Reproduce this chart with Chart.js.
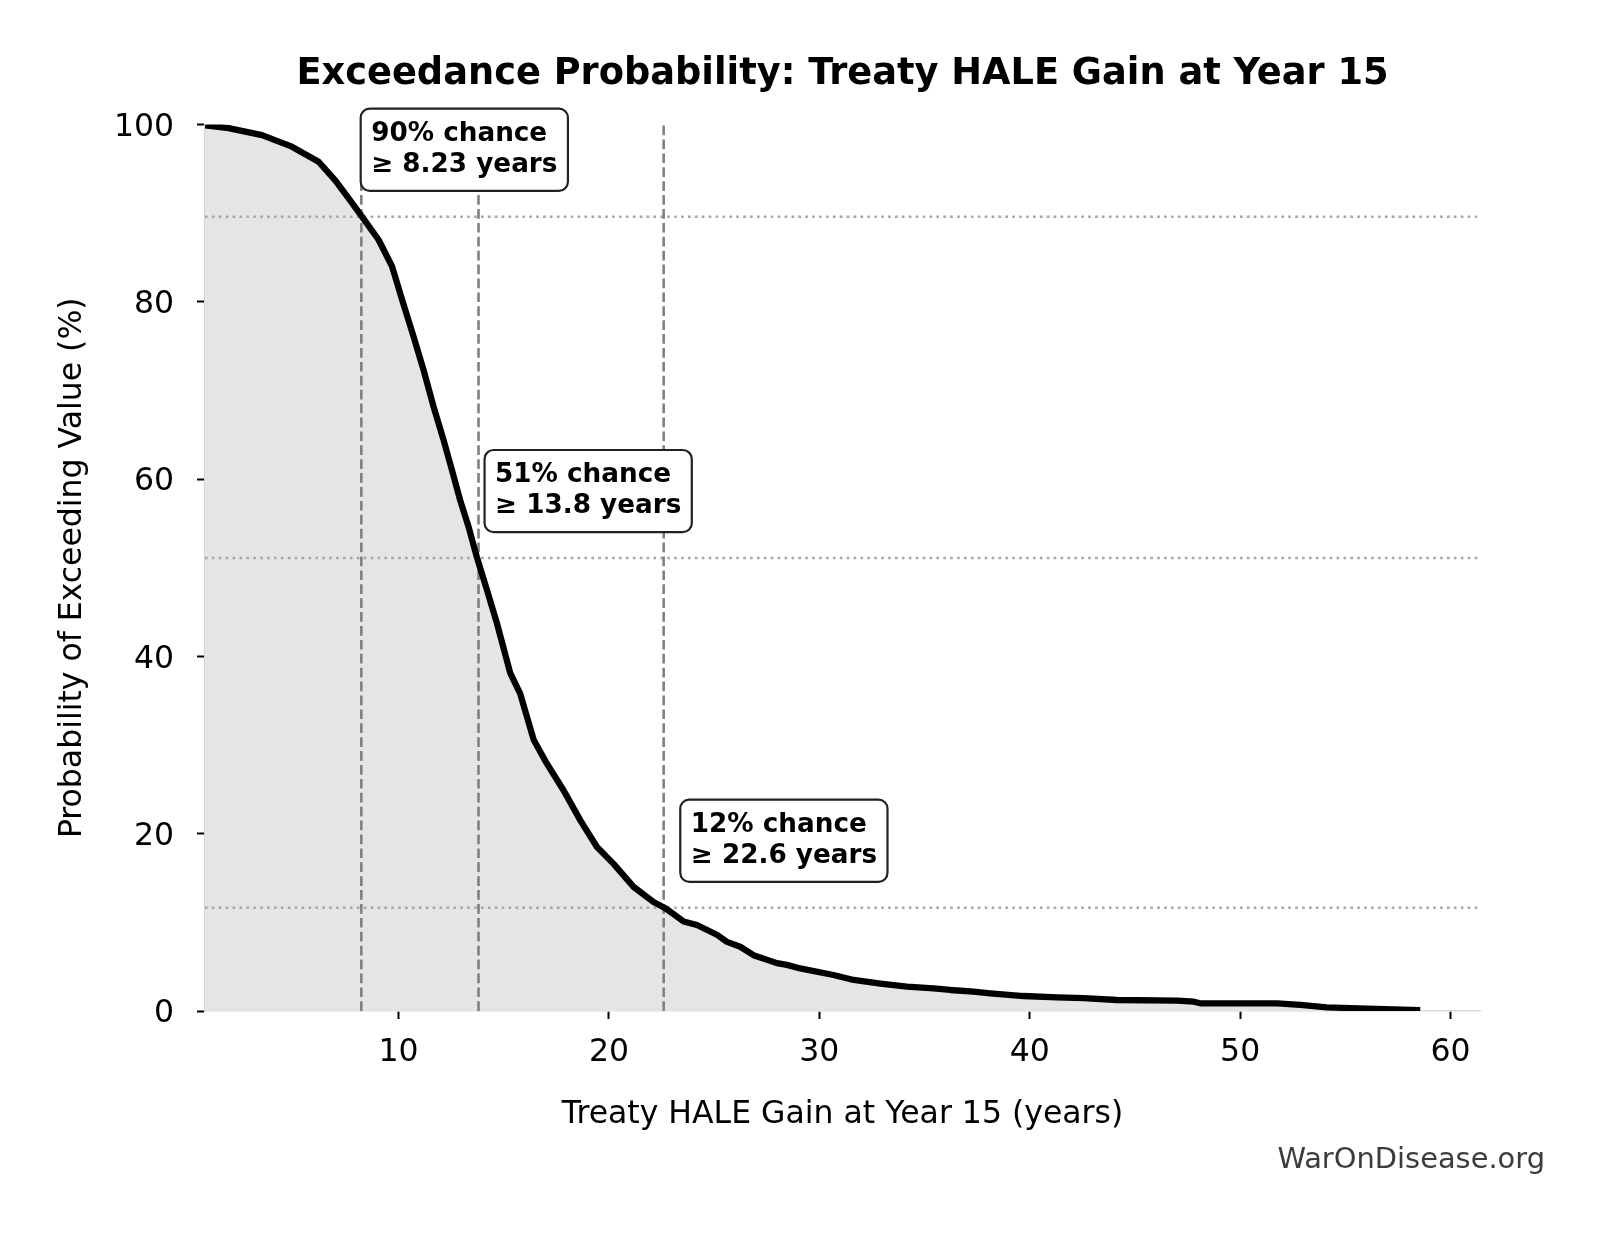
<!DOCTYPE html>
<html>
<head>
<meta charset="utf-8">
<script src="https://cdn.jsdelivr.net/npm/chart.js@4.4.1/dist/chart.umd.min.js"></script>
<style>
  html, body { margin: 0; padding: 0; background: #ffffff; }
  #wrap { width: 1603px; height: 1233px; position: relative; }
</style>
</head>
<body>
<div id="wrap"><canvas id="c" width="1603" height="1233"></canvas></div>
<script>
// ---- Data ----
const gainYears = [0.81, 1.92, 3.51, 4.93, 6.2, 6.99, 7.62, 8.26, 9.05, 9.69, 10.2, 10.71, 11.19, 11.66,
  12.14, 12.54, 12.93, 13.33, 13.72, 14.2, 14.68, 15.31, 15.78, 16.42, 17.05, 17.84, 18.64, 19.43,
  20.22, 21.17, 22.12, 22.68, 23.55, 24.18, 25.13, 25.61, 26.24, 26.87, 27.98, 28.46, 29.09, 30.67,
  31.63, 32.9, 34.16, 35.43, 36.22, 37.33, 38.12, 39.7, 41.29, 42.56, 44.14, 47.0, 47.8, 48.1,
  51.75, 52.86, 54.12, 56.03, 58.56];
const exceedPct = [99.9, 99.6, 98.8, 97.5, 95.8, 93.7, 91.7, 89.6, 87.0, 84.0, 80.0, 76.1, 72.3, 68.2,
  64.4, 61.0, 57.6, 54.6, 51.2, 47.5, 43.7, 38.1, 35.8, 30.6, 27.9, 24.9, 21.5, 18.5,
  16.6, 14.0, 12.3, 11.6, 10.1, 9.7, 8.6, 7.8, 7.25, 6.3, 5.4, 5.2, 4.8, 4.06,
  3.5, 3.1, 2.74, 2.56, 2.37, 2.18, 2.0, 1.69, 1.54, 1.45, 1.24, 1.16, 1.05, 0.87,
  0.87, 0.68, 0.42, 0.26, 0.1];
const thresholdYears = [8.23, 13.8, 22.6];
const thresholdPct = [89.6, 51.1, 11.65];
const thresholdChance = ['90%', '51%', '12%'];
const thresholdText = ['8.23', '13.8', '22.6'];
const xTickValues = [10, 20, 30, 40, 50, 60];
const yTickValues = [0, 20, 40, 60, 80, 100];
const xRange = [0.8, 61.4];
const yRange = [0, 100];

const FONT = "'DejaVu Sans', 'Liberation Sans', sans-serif";

const points = gainYears.map((x, i) => ({ x: x, y: exceedPct[i] }));

const refLines = {
  id: 'refLines',
  beforeDatasetsDraw(chart) {
    const { ctx, chartArea: a, scales: { x, y } } = chart;
    ctx.save();
    // dotted horizontal lines
    ctx.strokeStyle = '#a6a6a6';
    ctx.lineWidth = 2.6;
    ctx.setLineDash([2.6, 4.3]);
    thresholdPct.forEach(p => {
      const py = y.getPixelForValue(p);
      ctx.beginPath(); ctx.moveTo(a.left, py); ctx.lineTo(a.right, py); ctx.stroke();
    });
    // dashed vertical lines
    ctx.strokeStyle = '#808080';
    ctx.setLineDash([9.7, 4.2]);
    thresholdYears.forEach(v => {
      const px = x.getPixelForValue(v);
      ctx.beginPath(); ctx.moveTo(px, a.bottom); ctx.lineTo(px, a.top); ctx.stroke();
    });
    ctx.restore();
  }
};

const labelBoxes = {
  id: 'labelBoxes',
  afterDatasetsDraw(chart, args, opts) {
    const { ctx, scales: { x, y } } = chart;
    const fs = 26.25, lineH = 31.5, pad = 10.5;
    ctx.save();
    ctx.font = 'bold ' + fs + 'px ' + FONT;
    thresholdYears.forEach((v, i) => {
      const lines = [thresholdChance[i] + ' chance', '\u2265 ' + thresholdText[i] + ' years'];
      const textLeft = x.getPixelForValue(v * opts.xFactor);
      const cy = y.getPixelForValue(thresholdPct[i] + opts.yOffset);
      const w = Math.max(...lines.map(l => ctx.measureText(l).width));
      const h = lineH + fs * 1.13 + 2 * pad;
      const bx = textLeft - pad, by = cy - h / 2, bw = w + 2 * pad;
      ctx.beginPath();
      ctx.roundRect(bx, by, bw, h, 9);
      ctx.fillStyle = '#ffffff';
      ctx.fill();
      ctx.lineWidth = 2.2;
      ctx.strokeStyle = '#222222';
      ctx.stroke();
      ctx.fillStyle = '#000000';
      ctx.textAlign = 'left';
      ctx.textBaseline = 'alphabetic';
      ctx.fillText(lines[0], textLeft, by + 32);
      ctx.fillText(lines[1], textLeft, by + 32 + lineH);
    });
    ctx.restore();
  }
};

const watermark = {
  id: 'watermark',
  afterDraw(chart) {
    const { ctx } = chart;
    ctx.save();
    ctx.font = '28.9px ' + FONT;
    ctx.fillStyle = '#3c3c3c';
    ctx.textAlign = 'right';
    ctx.textBaseline = 'alphabetic';
    ctx.fillText('WarOnDisease.org', 1545, 1168);
    ctx.restore();
  }
};

new Chart(document.getElementById('c'), {
  type: 'line',
  data: {
    datasets: [{
      data: points,
      borderColor: '#000000',
      borderWidth: 6.3,
      backgroundColor: '#e5e5e5',
      fill: 'origin',
      pointRadius: 0,
      tension: 0,
      borderJoinStyle: 'round',
      borderCapStyle: 'butt'
    }]
  },
  options: {
    responsive: false,
    animation: false,
    events: [],
    layout: { padding: { top: 20, left: 0, right: 123, bottom: 92 } },
    plugins: {
      legend: { display: false },
      tooltip: { enabled: false },
      filler: { drawTime: 'beforeDatasetsDraw' },
      title: {
        display: true,
        fullSize: false,
        align: 'center',
        text: 'Exceedance Probability: Treaty HALE Gain at Year 15',
        color: '#000000',
        font: { family: FONT, size: 36.75, weight: 'bold', lineHeight: 1.2 },
        padding: { top: 32.5, bottom: 27.9 }
      },
      labelBoxes: { xFactor: 1.057, yOffset: 7.55 }
    },
    scales: {
      x: {
        type: 'linear',
        min: xRange[0],
        max: xRange[1],
        afterBuildTicks: s => { s.ticks = xTickValues.map(v => ({ value: v })); },
        afterFit: s => { s.height = 130; },
        grid: { display: true, drawOnChartArea: false, drawTicks: true, tickLength: 8, tickColor: '#000000', tickWidth: 2 },
        border: { display: true, color: '#d9d9d9', width: 1.5 },
        ticks: { color: '#000000', font: { family: FONT, size: 31.5 }, padding: 15, maxRotation: 0 },
        title: {
          display: true, text: 'Treaty HALE Gain at Year 15 (years)', color: '#000000',
          font: { family: FONT, size: 31.5 }, padding: { top: 0, bottom: 7 }
        }
      },
      y: {
        type: 'linear',
        min: yRange[0],
        max: yRange[1],
        afterBuildTicks: s => { s.ticks = yTickValues.map(v => ({ value: v })); },
        afterFit: s => { s.width = 205; },
        grid: { display: true, drawOnChartArea: false, drawTicks: true, tickLength: 8, tickColor: '#000000', tickWidth: 2 },
        border: { display: true, color: '#d4d4d4', width: 1.5 },
        ticks: { color: '#000000', font: { family: FONT, size: 31.5 }, padding: 23, labelOffset: 3 },
        title: {
          display: true, text: 'Probability of Exceeding Value (%)', color: '#000000',
          font: { family: FONT, size: 31.5 }, padding: { top: 54, bottom: 0 }
        }
      }
    }
  },
  plugins: [refLines, labelBoxes, watermark]
});
</script>
</body>
</html>
